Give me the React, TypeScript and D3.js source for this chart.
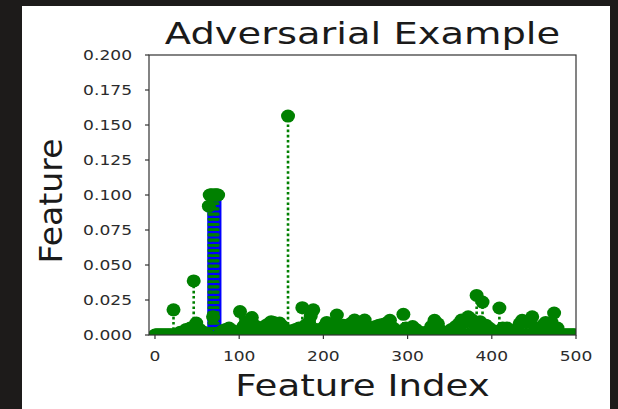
import React from "react";
import * as d3 from "d3";

// Stem plot of a 500-feature adversarial example.
const FEATURE_COUNT = 500;

const xTickValues = [0, 100, 200, 300, 400, 500];
const yTickValues = [0, 0.025, 0.05, 0.075, 0.1, 0.125, 0.15, 0.175, 0.2];

// Non-zero features of the adversarial example (all other features are 0).
const activeIndex = [
  22, 30, 37, 42, 46, 49, 53, 58, 64, 65, 66, 67, 68, 69, 70, 71, 72, 73, 74, 75,
  80, 84, 88, 93, 101, 105, 108, 111, 115, 119, 124, 128, 131, 135, 138, 141, 145,
  148, 152, 158, 162, 167, 171, 175, 179, 183, 185, 188, 192, 197, 201, 204, 208,
  212, 216, 220, 224, 228, 232, 237, 241, 245, 249, 253, 258, 262, 266, 270, 275,
  279, 283, 288, 295, 298, 302, 306, 310, 315, 322, 328, 332, 336, 340, 346, 352,
  357, 361, 364, 368, 372, 376, 379, 382, 386, 389, 393, 397, 402, 409, 413, 418,
  423, 429, 433, 436, 441, 445, 448, 452, 457, 461, 464, 468, 471, 474, 478,
];
const activeValue = [
  0.018, 0.002, 0.004, 0.005, 0.0386, 0.0085, 0.004, 0.002, 0.092, 0.1, 0.1, 0.1,
  0.1, 0.013, 0.1, 0.1, 0.1, 0.1, 0.1, 0.1,
  0.003, 0.004, 0.005, 0.003, 0.0167, 0.006, 0.0095, 0.008, 0.0125, 0.0066, 0.004,
  0.005, 0.0066, 0.008, 0.0095, 0.009, 0.007,
  0.0085, 0.006, 0.1564, 0.003, 0.004, 0.005, 0.0195, 0.007, 0.009, 0.0135, 0.018,
  0.004, 0.003, 0.006, 0.009, 0.007,
  0.006, 0.0143, 0.006, 0.007, 0.006, 0.008, 0.0107, 0.008, 0.007, 0.0107, 0.006,
  0.004, 0.006, 0.007, 0.0075, 0.0085,
  0.0105, 0.005, 0.003, 0.0148, 0.005, 0.004, 0.006, 0.004, 0.002, 0.002, 0.006,
  0.0105, 0.008, 0.003, 0.002, 0.004,
  0.006, 0.008, 0.0107, 0.009, 0.013, 0.011, 0.008, 0.0283, 0.0095, 0.0235, 0.007,
  0.005, 0.003, 0.0193, 0.005, 0.005,
  0.002, 0.004, 0.008, 0.0105, 0.009, 0.0105, 0.013, 0.005, 0.004, 0.007, 0.009,
  0.008, 0.009, 0.0157, 0.005,
];

// Perturbed window, drawn as solid blue stems underneath.
const perturbIndex = [63, 64, 65, 66, 67, 68, 69, 70, 71, 72, 73, 74, 75, 76, 77, 78];
const perturbValue = [
  0.098, 0.098, 0.098, 0.098, 0.098, 0.098, 0.098, 0.098,
  0.098, 0.098, 0.098, 0.098, 0.098, 0.098, 0.098, 0.098,
];

const GREEN = "#008000";
const BLUE = "#0000ff";
const FONT = "'DejaVu Sans', sans-serif";

export default function App() {
  const W = 618;
  const H = 409;
  const plot = { left: 149, right: 576, top: 55, bottom: 335 };

  const x = d3.scaleLinear().domain([-7.1, 500]).range([plot.left, plot.right]);
  const y = d3.scaleLinear().domain([0, 0.2]).range([plot.bottom, plot.top]);

  const valueAt = new Map<number, number>(activeIndex.map((i, k) => [i, activeValue[k]]));
  const features = d3.range(FEATURE_COUNT).map((i) => ({ i, v: valueAt.get(i) ?? 0 }));
  const zeros = features.filter((d) => d.v === 0);
  const nonzero = features.filter((d) => d.v !== 0);
  const fmt = d3.format(".3f");

  const tickColor = "#2b2b2b";
  const textSX = 1.22;

  return (
    <svg
      width={W}
      height={H}
      style={{ position: "absolute", left: 0, top: 0, display: "block" }}
    >
      <defs>
        <clipPath id="plot-area">
          <rect x={plot.left} y={plot.top} width={plot.right - plot.left} height={plot.bottom - plot.top} />
        </clipPath>
      </defs>
      <rect x={0} y={0} width={W} height={H} fill="#1d1b1a" />
      <rect x={22} y={6} width={588} height={H - 6} fill="#ffffff" />

      <g clipPath="url(#plot-area)">
        {/* blue stems of the perturbed window */}
        {perturbIndex.map((idx, k) => (
          <line
            key={`b${idx}`}
            x1={x(idx)}
            x2={x(idx)}
            y1={y(0)}
            y2={y(perturbValue[k])}
            stroke={BLUE}
            strokeWidth={1.6}
          />
        ))}
        {/* dotted green stems */}
        {nonzero.map((d) => (
          <line
            key={`s${d.i}`}
            x1={x(d.i)}
            x2={x(d.i)}
            y1={y(0)}
            y2={y(d.v)}
            stroke={GREEN}
            strokeWidth={2.6}
            strokeDasharray="2.6 2.6"
          />
        ))}
        {/* markers at zero form the base band */}
        {zeros.map((d) => (
          <ellipse key={`z${d.i}`} cx={x(d.i)} cy={y(0)} rx={7} ry={6.5} fill={GREEN} />
        ))}
        {nonzero.map((d) => (
          <ellipse key={`m${d.i}`} cx={x(d.i)} cy={y(d.v)} rx={7} ry={6.5} fill={GREEN} />
        ))}
      </g>

      {/* frame */}
      <rect
        x={plot.left}
        y={plot.top}
        width={plot.right - plot.left}
        height={plot.bottom - plot.top}
        fill="none"
        stroke="#333"
        strokeWidth={1.2}
      />

      {/* y axis ticks */}
      {yTickValues.map((t) => (
        <g key={`yt${t}`}>
          <line x1={plot.left - 4} x2={plot.left} y1={y(t)} y2={y(t)} stroke="#333" strokeWidth={1.2} />
          <text
            transform={`translate(${plot.left - 17},${y(t) + 5}) scale(${textSX},1)`}
            textAnchor="end"
            fontFamily={FONT}
            fontSize={14}
            fill={tickColor}
          >
            {fmt(t)}
          </text>
        </g>
      ))}

      {/* x axis ticks */}
      {xTickValues.map((t) => (
        <g key={`xt${t}`}>
          <line x1={x(t)} x2={x(t)} y1={plot.bottom} y2={plot.bottom + 4} stroke="#333" strokeWidth={1.2} />
          <text
            transform={`translate(${x(t)},${plot.bottom + 26}) scale(${textSX},1)`}
            textAnchor="middle"
            fontFamily={FONT}
            fontSize={14}
            fill={tickColor}
          >
            {t}
          </text>
        </g>
      ))}

      <text
        transform={`translate(${(plot.left + plot.right) / 2},44) scale(1.26,1)`}
        textAnchor="middle"
        fontFamily={FONT}
        fontSize={30.5}
        fill="#1a1a1a"
      >
        Adversarial Example
      </text>
      <text
        transform={`translate(${(plot.left + plot.right) / 2},396) scale(1.26,1)`}
        textAnchor="middle"
        fontFamily={FONT}
        fontSize={29.5}
        fill="#1a1a1a"
      >
        Feature Index
      </text>
      <text
        transform={`translate(62,201) rotate(-90) scale(1.05,1)`}
        textAnchor="middle"
        fontFamily={FONT}
        fontSize={31.5}
        fill="#1a1a1a"
      >
        Feature
      </text>
    </svg>
  );
}
